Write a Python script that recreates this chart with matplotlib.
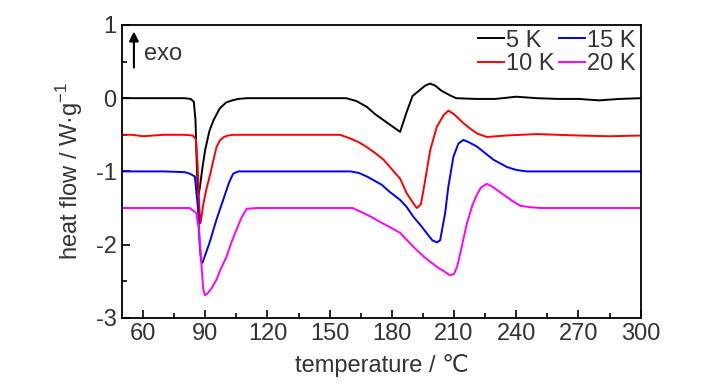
import matplotlib
matplotlib.use('Agg')
import matplotlib.pyplot as plt
from matplotlib.ticker import MultipleLocator

plt.rcParams['font.family'] = ['Liberation Sans Narrow', 'Liberation Sans', 'DejaVu Sans']
plt.rcParams['axes.unicode_minus'] = False

# heating rates
labels = ['5 K', '10 K', '15 K', '20 K']
colors = ['black', 'red', 'blue', 'magenta']

t_5k = [50, 60, 70, 80, 83, 84.5, 85.3, 85.8, 86.3, 86.8, 87.5, 88.5, 90, 92, 94, 97, 100, 103, 106, 110,
        130, 150, 158, 163, 168, 172, 176, 180, 184, 187, 190, 193, 196, 198.5, 201, 204, 208, 211,
        220, 230, 240, 250, 260, 270, 280, 290, 300]
hf_5k = [0, 0, 0, 0, -0.01, -0.05, -0.3, -0.8, -1.2, -1.32, -1.2, -0.98, -0.7, -0.45, -0.3, -0.14, -0.06,
         -0.03, -0.01, 0, 0, 0, 0, -0.04, -0.12, -0.22, -0.3, -0.38, -0.46, -0.2, 0.03, 0.1, 0.17, 0.2,
         0.17, 0.1, 0.04, 0.0, -0.01, -0.01, 0.02, 0.0, -0.01, -0.01, -0.03, -0.01, 0.0]

t_10k = [50, 55, 60, 65, 70, 80, 84, 85.5, 86.3, 87, 87.6, 88.3, 89, 90.5, 92.2, 94, 95.4, 97, 99, 101,
         103.5, 110, 130, 150, 155, 160, 164, 168, 172, 176, 180, 184, 187.2, 190, 192, 194, 195.3,
         198.5, 201.7, 205, 207.3, 210, 214.5, 218, 221, 225.8, 235, 250, 270, 285, 300]
hf_10k = [-0.5, -0.5, -0.52, -0.51, -0.5, -0.5, -0.51, -0.56, -0.9, -1.4, -1.71, -1.6, -1.46, -1.25,
          -1.06, -0.84, -0.67, -0.58, -0.53, -0.51, -0.5, -0.5, -0.5, -0.5, -0.5, -0.55, -0.6, -0.67,
          -0.75, -0.84, -0.97, -1.1, -1.3, -1.42, -1.5, -1.45, -1.25, -0.71, -0.39, -0.23, -0.17,
          -0.22, -0.34, -0.42, -0.48, -0.53, -0.51, -0.49, -0.51, -0.52, -0.51]

t_15k = [50, 60, 70, 80, 82.5, 85, 86.5, 87.3, 88, 88.6, 89.5, 92, 95.4, 99, 101.5, 103.5, 106, 120,
         140, 160, 164, 168, 175, 179, 184, 187, 190.4, 194, 197, 199.5, 201.7, 203.3, 205.7, 207.3,
         209.7, 212.1, 214.5, 217, 221, 225, 229, 235.5, 240, 245, 260, 280, 300]
hf_15k = [-1.0, -1.0, -1.0, -1.01, -1.03, -1.07, -1.5, -2.0, -2.22, -2.25, -2.18, -1.98, -1.66, -1.36,
          -1.15, -1.03, -1.0, -1.0, -1.0, -1.0, -1.02, -1.07, -1.18, -1.28, -1.39, -1.48, -1.62, -1.74,
          -1.85, -1.94, -1.97, -1.94, -1.57, -1.2, -0.8, -0.62, -0.57, -0.6, -0.66, -0.75, -0.84,
          -0.94, -0.98, -1.0, -1.0, -1.0, -1.0]

t_20k = [50, 60, 70, 80, 82.5, 85.7, 87, 88, 89, 89.8, 91, 93, 95.4, 97.5, 100.2, 102.5, 105, 107.5,
         110, 115, 130, 150, 161, 165, 170, 174.3, 179, 184, 190.4, 196, 202.5, 205, 208, 210, 211.5,
         213, 216.2, 219, 221, 223, 225.8, 228, 232, 235.5, 239, 242, 247, 252, 270, 300]
hf_20k = [-1.5, -1.5, -1.5, -1.5, -1.5, -1.57, -1.8, -2.2, -2.6, -2.69, -2.67, -2.6, -2.48, -2.33,
          -2.17, -1.98, -1.8, -1.63, -1.51, -1.5, -1.5, -1.5, -1.5, -1.55, -1.62, -1.69, -1.76, -1.84,
          -2.03, -2.18, -2.32, -2.36, -2.42, -2.4, -2.3, -2.12, -1.71, -1.45, -1.32, -1.22, -1.17,
          -1.2, -1.28, -1.35, -1.42, -1.47, -1.49, -1.5, -1.5, -1.5]

temps = [t_5k, t_10k, t_15k, t_20k]
flows = [hf_5k, hf_10k, hf_15k, hf_20k]

fig = plt.figure(figsize=(7.28, 3.9), dpi=100)
ax = fig.add_axes([0.168, 0.185, 0.712, 0.751])

for t, hf, c, lab in zip(temps, flows, colors, labels):
    ax.plot(t, hf, color=c, lw=1.4, label=lab)

ax.set_xlim(50, 300)
ax.set_ylim(-3, 1)
ax.xaxis.set_major_locator(MultipleLocator(30))
ax.xaxis.set_minor_locator(MultipleLocator(15))
ax.yaxis.set_major_locator(MultipleLocator(1))
ax.yaxis.set_minor_locator(MultipleLocator(0.5))
ax.set_xticks([60, 90, 120, 150, 180, 210, 240, 270, 300])
ax.tick_params(which='both', direction='in', top=False, right=False, labelsize=17,
               labelcolor='#333333', width=1.2)
ax.tick_params(which='major', length=6, pad=4)
ax.tick_params(which='minor', length=3.5)
for s in ax.spines.values():
    s.set_linewidth(1.3)

ax.set_xlabel('temperature / \u2103', fontsize=17, color='#333333', labelpad=6)
ax.set_ylabel('heat flow / W\u00b7g$^{\\mathregular{-1}}$', fontsize=17, color='#333333', labelpad=8)

ax.annotate('', xy=(55.6, 0.95), xytext=(55.6, 0.38),
            arrowprops=dict(arrowstyle='-|>', color='black', lw=1.5, mutation_scale=14))
ax.text(60.5, 0.6, 'exo', fontsize=17, color='#333333', va='center')

ax.legend(ncol=2, loc='upper right', frameon=False, fontsize=17, handlelength=1.1,
          handletextpad=0.1, columnspacing=0.2, labelspacing=0.05, borderaxespad=0.1,
          borderpad=0.1, labelcolor='#333333')

fig.savefig('out.png', dpi=100)
